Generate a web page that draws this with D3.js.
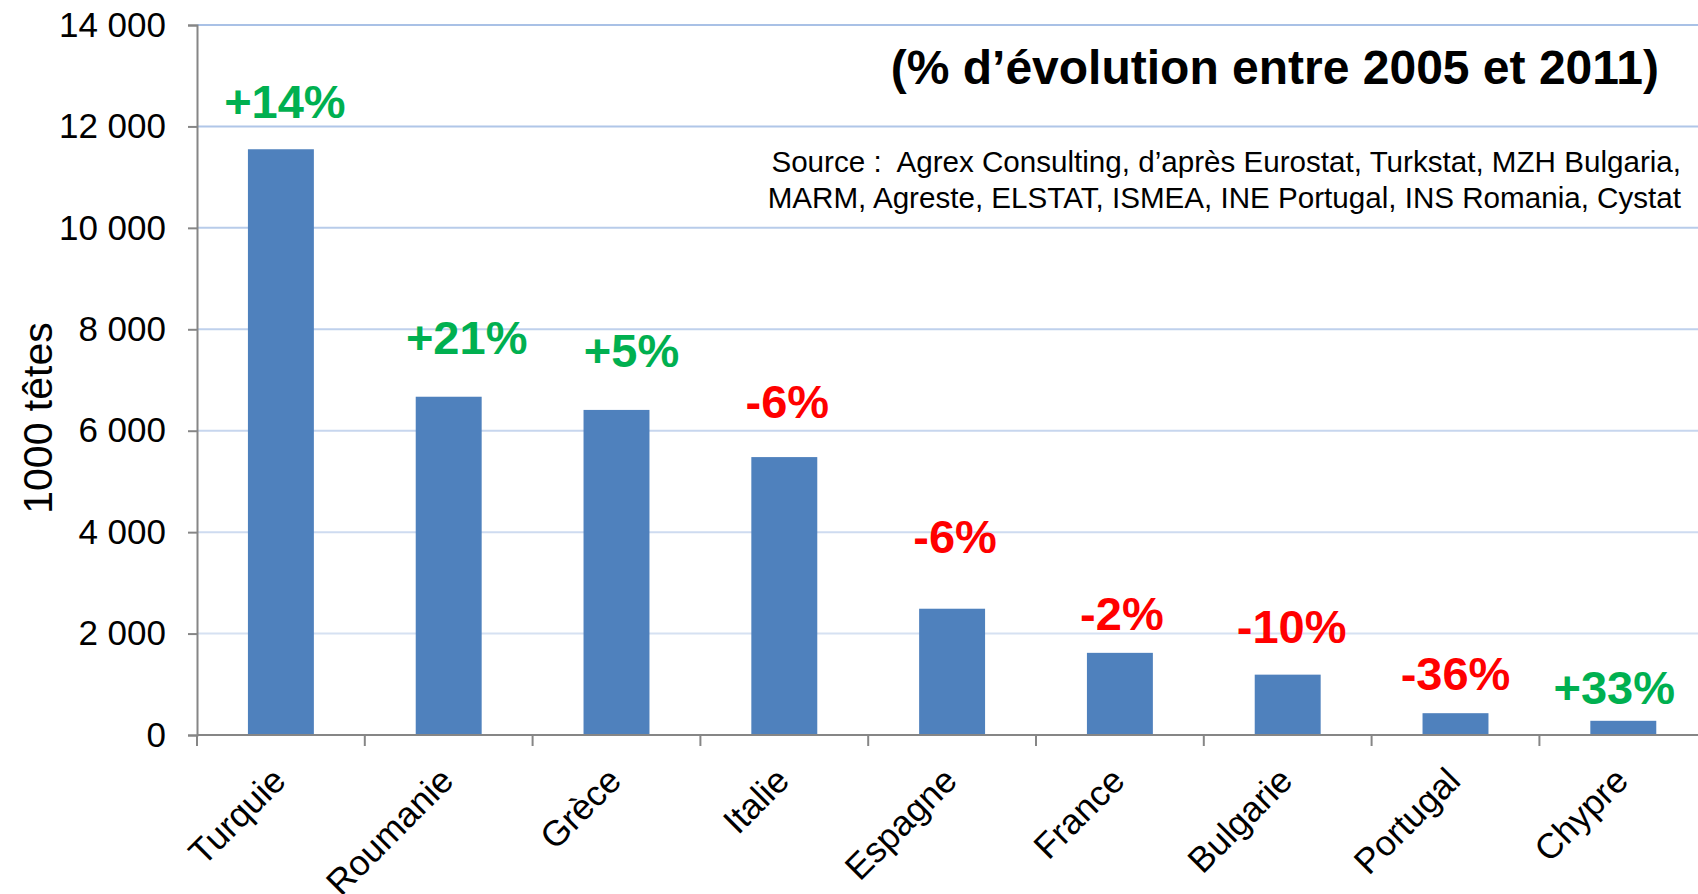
<!DOCTYPE html>
<html>
<head>
<meta charset="utf-8">
<script src="https://cdn.jsdelivr.net/npm/d3@7"></script>
<style>
  body { margin: 0; background: #fff; }
  svg { display: block; font-family: "Liberation Sans", Arial, sans-serif; }
</style>
</head>
<body>
<svg width="1698" height="894"></svg>
<script>
// data (1000 têtes, 2011)
var pays = ["Turquie", "Roumanie", "Grèce", "Italie", "Espagne", "France", "Bulgarie", "Portugal", "Chypre"];
var tetes = [11550, 6670, 6410, 5480, 2490, 1620, 1190, 430, 280];
var evolution = [14, 21, 5, -6, -6, -2, -10, -36, 33];
var yTicks = [0, 2000, 4000, 6000, 8000, 10000, 12000, 14000];

var titre = "(% d’évolution entre 2005 et 2011)";
var sourceLignes = [
  "Source :  Agrex Consulting, d’après Eurostat, Turkstat, MZH Bulgaria,",
  "MARM, Agreste, ELSTAT, ISMEA, INE Portugal, INS Romania, Cystat"
];

// label nudges (px from top-centre of each bar), as placed in the original
var nudgeX = [4, 18, 15, 3, 3, 2, 4, 0, -9];
var nudgeY = [-31, -43, -43, -39, -56, -23, -32, -23, -17];

var svg = d3.select("svg"),
    plotL = 197, plotT = 25, plotB = 735,
    step = 167.8,
    plotR = plotL + step * pays.length;

var fr = d3.formatLocale({decimal: ",", thousands: "\u00a0", grouping: [3], currency: ["", " €"]});
var fmt = fr.format(",d");

var x = d3.scaleBand().domain(pays).range([plotL, plotR]).padding(0);
var y = d3.scaleLinear().domain([0, 14000]).range([plotB, plotT]);
var barW = x.bandwidth() * 0.393;

var gridColor = d3.scaleLinear().domain([0, 14000]).range(["#dde6f4", "#a9c1e6"]);

// gridlines
svg.append("g")
  .selectAll("line")
  .data(yTicks.filter(d => d > 0))
  .enter().append("line")
    .attr("x1", plotL).attr("x2", plotR)
    .attr("y1", d => y(d)).attr("y2", d => y(d))
    .attr("stroke", d => gridColor(d))
    .attr("stroke-width", 2);

// bars
svg.append("g")
  .selectAll("rect")
  .data(pays)
  .enter().append("rect")
    .attr("x", (d, i) => x(d) + (x.bandwidth() - barW) / 2)
    .attr("y", (d, i) => y(tetes[i]))
    .attr("width", barW)
    .attr("height", (d, i) => plotB - y(tetes[i]))
    .attr("fill", "#4f81bd");

// y axis
var yAxis = svg.append("g")
    .attr("transform", "translate(" + plotL + ",0)")
    .call(d3.axisLeft(y).tickValues(yTicks).tickFormat(fmt).tickSize(9).tickPadding(22));
yAxis.select(".domain").attr("stroke", "#868686").attr("stroke-width", 2);
yAxis.selectAll(".tick line").attr("stroke", "#868686").attr("stroke-width", 2);
yAxis.selectAll(".tick text")
    .attr("fill", "#000")
    .style("font-size", "35px")
    .style("font-family", "'Liberation Sans', Arial, sans-serif");

// x axis (ticks between categories)
var xAxis = svg.append("g")
    .attr("transform", "translate(0," + plotB + ")");
xAxis.append("line")
    .attr("x1", plotL).attr("x2", plotR)
    .attr("stroke", "#868686").attr("stroke-width", 2);
xAxis.selectAll("line.sep")
  .data(d3.range(pays.length + 1))
  .enter().append("line")
    .attr("class", "sep")
    .attr("x1", i => plotL + i * step).attr("x2", i => plotL + i * step)
    .attr("y1", 0).attr("y2", 11)
    .attr("stroke", "#868686").attr("stroke-width", 2);
xAxis.selectAll("text")
  .data(pays)
  .enter().append("text")
    .attr("transform", d => "translate(" + (x(d) + x.bandwidth() / 2 - 11) + ",30) rotate(-45)")
    .attr("text-anchor", "end")
    .attr("dy", "0.71em")
    .style("font-size", "35.5px")
    .text(d => d);

// y title
svg.append("text")
    .attr("transform", "translate(52,418) rotate(-90)")
    .attr("text-anchor", "middle")
    .style("font-size", "41px")
    .text("1000 têtes");

// % labels
svg.append("g")
  .selectAll("text")
  .data(pays)
  .enter().append("text")
    .attr("x", (d, i) => x(d) + x.bandwidth() / 2 + nudgeX[i])
    .attr("y", (d, i) => y(tetes[i]) + nudgeY[i])
    .attr("text-anchor", "middle")
    .attr("fill", (d, i) => evolution[i] >= 0 ? "#00b050" : "#ff0000")
    .style("font-size", "47px")
    .style("font-weight", "bold")
    .text((d, i) => (evolution[i] > 0 ? "+" : "") + evolution[i] + "%");

// title + source
svg.append("text")
    .attr("x", 1659).attr("y", 84)
    .attr("text-anchor", "end")
    .style("font-size", "48px")
    .style("font-weight", "bold")
    .text(titre);

svg.append("g")
  .selectAll("text")
  .data(sourceLignes)
  .enter().append("text")
    .attr("x", 1681)
    .attr("y", (d, i) => 172 + i * 36)
    .attr("text-anchor", "end")
    .style("font-size", "29.6px")
    .style("white-space", "pre")
    .text(d => d);
</script>
</body>
</html>
